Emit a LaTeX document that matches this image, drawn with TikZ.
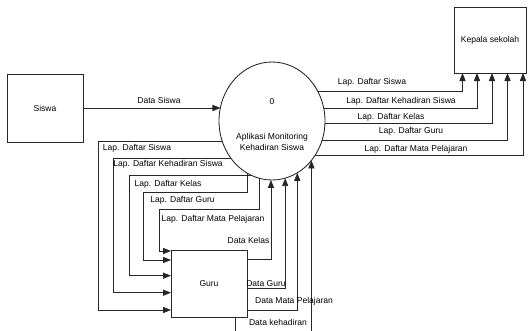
\documentclass[tikz,border=0pt]{standalone}
\usepackage{fontspec}
\setmainfont{Liberation Sans}
\usetikzlibrary{shapes.geometric,arrows.meta}
\tikzset{
  entity/.style={draw=black!85, line width=0.65pt, inner sep=0pt, outer sep=0pt},
  proc/.style={ellipse, draw=black!85, line width=0.65pt, minimum width=79.5pt,
    minimum height=88.5pt, inner sep=0pt, outer sep=0pt},
  flow/.style={draw=black!85, line width=0.65pt, -{Triangle[length=6pt,width=4.6pt]}},
  lbl/.style={inner sep=0pt},
}
\begin{document}
\begin{tikzpicture}[x=0.75pt, y=-0.75pt, font=\fontsize{6.4}{8.3}\selectfont]
\useasboundingbox (0,0) rectangle (528,330);
\clip (0,0) rectangle (528,330);
% entitas luar dan proses
\node[entity, minimum width=57pt, minimum height=51pt] (siswa) at (45,108) {Siswa};
\node[entity, minimum width=54pt, minimum height=49.5pt] (kepsek) at (490,40) {Kepala sekolah};
\node[entity, minimum width=57pt, minimum height=50.25pt] (guru) at (209,283.5) {Guru};
\node[proc] (proc) at (272,121) {};
\node[lbl] (procno) at (272,102) {0};
\node[lbl, align=center] (procname) at (272,141.5) {Aplikasi Monitoring\\Kehadiran Siswa};
% siswa -> proses
\draw[flow] (siswa.east) -- (siswa.east -| proc.165.9);
\node[lbl] (dsiswa) at (159,100.5) {Data Siswa};
% proses -> kepala sekolah
\draw[flow] (proc.33.9) -| (kepsek.south -| 462.5,0);
\draw[flow] (proc.14.1) -| (kepsek.south -| 477,0);
\draw[flow] (proc.-3.24) -| (kepsek.south -| 492,0);
\draw[flow] (proc.-21.3) -| (kepsek.south -| 507.5,0);
\draw[flow] (proc.-39.3) -| (kepsek.south -| 523,0);
\node[lbl] (ksiswa) at (372,82.5) {Lap. Daftar Siswa};
\node[lbl] (khadir) at (401,101.5) {Lap. Daftar Kehadiran Siswa};
\node[lbl] (kkelas) at (391,117.5) {Lap. Daftar Kelas};
\node[lbl] (kguru) at (411,131.5) {Lap. Daftar Guru};
\node[lbl] (kmapel) at (416,149) {Lap. Daftar Mata Pelajaran};
% proses -> guru
\draw[flow] (proc.202.65) -| (98.3,310) -- (guru.west |- 0,310);
\draw[flow] (proc.223.8) -| (113.3,292.7) -- (guru.west |- 0,292.7);
\draw[flow] (proc.250) -| (129,275.7) -- (guru.west |- 0,275.7);
\draw[flow] (proc.245.5) |- (143.3,192) |- (guru.west |- 0,260);
\draw[flow] (proc.258.2) |- (159.3,209.5) |- (guru.west |- 0,251);
\node[lbl] (gsiswa) at (137,148.5) {Lap. Daftar Siswa};
\node[lbl] (ghadir) at (168,164.5) {Lap. Daftar Kehadiran Siswa};
\node[lbl] (gkelas) at (168,184.3) {Lap. Daftar Kelas};
\node[lbl] (gguru) at (182.5,200.7) {Lap. Daftar Guru};
\node[lbl] (gmapel) at (213,219.3) {Lap. Daftar Mata Pelajaran};
% guru -> proses
\draw[flow] (guru.east |- 0,259.3) -| (proc.269);
\draw[flow] (guru.east |- 0,288.3) -| (proc.283.8);
\draw[flow] (guru.east |- 0,310) -| (proc.296);
\draw[flow] (guru.south -| 235,0) -- (235,345) -| (proc.315.1);
\node[lbl] (dkelas) at (248.5,240) {Data Kelas};
\node[lbl] (dguru) at (266,283.3) {Data Guru};
\node[lbl] (dmapel) at (294,301) {Data Mata Pelajaran};
\node[lbl] (dhadir) at (278,322.7) {Data kehadiran};
\end{tikzpicture}
\end{document}
